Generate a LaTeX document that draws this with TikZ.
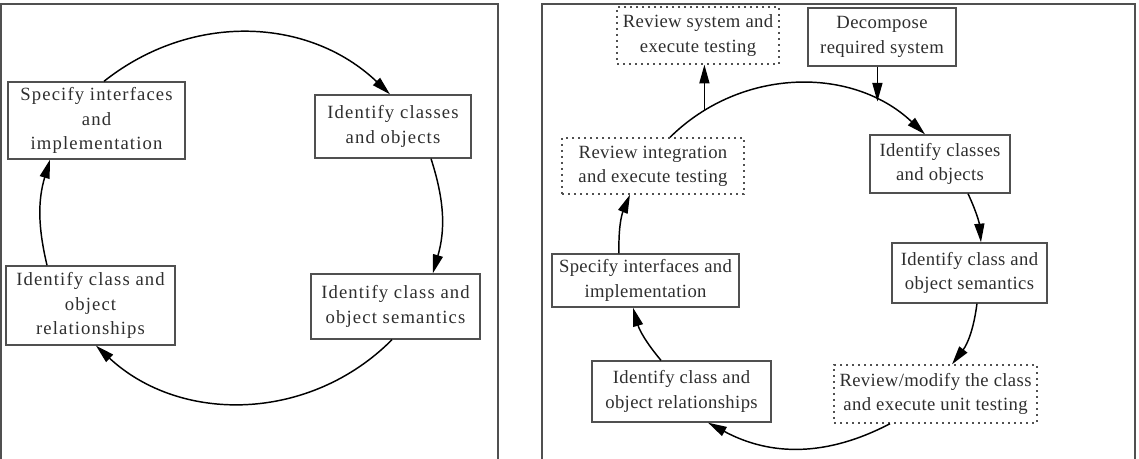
\documentclass[tikz,border=0pt]{standalone}
\usepackage{fontspec}
\setmainfont{Liberation Serif}
\newfontfamily\widefont[LetterSpace=6]{Liberation Serif}
\newfontfamily\narrowfont[LetterSpace=2]{Liberation Serif}
\usepackage{tikz}
\usepackage{xcolor}
\usetikzlibrary{arrows.meta}
\definecolor{ink}{HTML}{2E2E2E}
\definecolor{rim}{HTML}{505050}
\tikzstyle{frame}=[draw=rim, line width=1.2pt]
\tikzstyle{stage}=[draw=rim, line width=1pt, text=ink, align=center, inner sep=0pt,
		font=\fontsize{14}{18.2}\selectfont]
\tikzstyle{lstage}=[stage, font=\fontsize{14}{18.2}\widefont]
\tikzstyle{rstage}=[stage, font=\fontsize{14}{18.2}\narrowfont]
\tikzstyle{review}=[rstage, dash pattern=on 1.5pt off 3pt]
\tikzstyle{cyc}=[line width=1.1pt, -{Triangle[length=14pt, width=7.5pt]}]

\begin{document}
\begin{tikzpicture}[x=0.75pt, y=-0.75pt]
        \useasboundingbox (0,0) rectangle (1139,459);
        \draw[frame] (1,459) -- (1,4) -- (498,4) -- (498,459);
        \draw[frame] (542,459) -- (542,4) -- (1135,4) -- (1135,459);

        \node[lstage, minimum width=132.75pt, minimum height=57.75pt] (spec1) at (96.5,120.5) {Specify interfaces\\and\\implementation};
        \node[lstage, minimum width=117pt, minimum height=47.25pt] (cls1) at (393,126.5) {Identify classes\\and objects};
        \node[lstage, minimum width=126.75pt, minimum height=48.75pt] (sem1) at (395.5,306.5) {Identify class and\\object semantics};
        \node[lstage, minimum width=126.75pt, minimum height=59.25pt] (rel1) at (90.5,305.5) {Identify class and\\object\\relationships};

        \draw[cyc] ([xshift=5.6pt]spec1.north) to[bend left=41] ([xshift=-2.25pt]cls1.north);
        \draw[cyc] ([xshift=28.5pt]cls1.south) to[bend left=17] ([xshift=28pt]sem1.north);
        \draw[cyc] ([xshift=-2.6pt]sem1.south) to[bend left=44] ([xshift=4.1pt]rel1.south);
        \draw[cyc] ([xshift=-32.6pt]rel1.north) to[bend left=15] ([xshift=-34.9pt]spec1.south);

        \node[review, minimum width=121.5pt, minimum height=42.75pt] (revsys) at (698,35.5) {Review system and\\execute testing};
        \node[rstage, minimum width=111pt, minimum height=43.5pt] (decomp) at (882,37) {Decompose\\required system};
        \node[rstage, minimum width=105pt, minimum height=43.5pt] (cls2) at (940,164) {Identify classes\\and objects};
        \node[rstage, minimum width=116.25pt, minimum height=45pt] (sem2) at (969.5,273) {Identify class and\\object semantics};
        \node[review, minimum width=152.25pt, minimum height=43.5pt] (revmod) at (935.5,394) {Review/modify the class\\and execute unit testing};
        \node[rstage, minimum width=134.25pt, minimum height=45.75pt] (rel2) at (681.5,391.5) {Identify class and\\object relationships};
        \node[rstage, minimum width=140.25pt, minimum height=39.75pt] (spec2) at (645.5,280.5) {Specify interfaces and\\implementation};
        \node[review, minimum width=136.5pt, minimum height=42pt] (revint) at (653,166) {Review integration\\and execute testing};

        \draw[cyc] ([xshift=12.75pt]revint.north) to[bend left=44]
                coordinate[pos=0.15] (out) coordinate[pos=0.8] (in) ([xshift=-11.25pt]cls2.north);
        \draw[cyc] ([xshift=21pt]cls2.south) to[bend left=10] ([xshift=8.6pt]sem2.north);
        \draw[cyc] ([xshift=5.6pt]sem2.south) to[bend left=15] ([xshift=12.4pt]revmod.north);
        \draw[cyc] ([xshift=-34.1pt]revmod.south) to[bend left=28] ([xshift=19.9pt]rel2.south);
        \draw[cyc] ([xshift=-15.4pt]rel2.north) to[bend left=12] ([xshift=-9.4pt]spec2.south);
        \draw[cyc] ([xshift=-19.9pt]spec2.north) to[bend left=12] ([xshift=-17.25pt]revint.south);
        \draw[cyc] (decomp.south -| in) -- (in);
        \draw[cyc] (out) -- (out |- revsys.south);
    \end{tikzpicture}
\end{document}
